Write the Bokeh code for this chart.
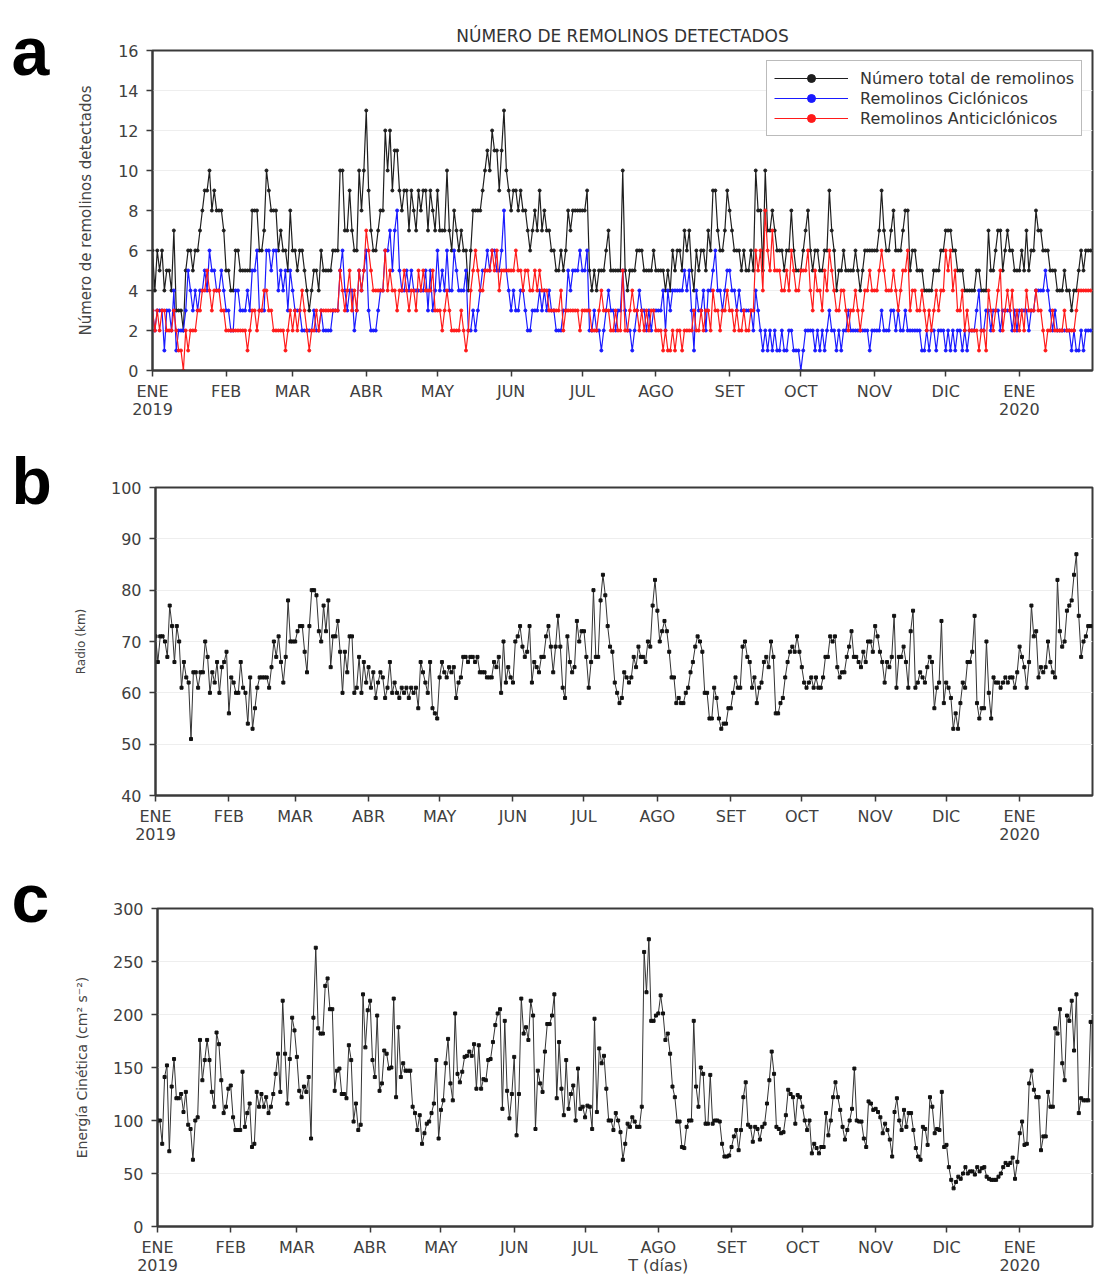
from itertools import accumulate
from bokeh.plotting import figure
from bokeh.models import Range1d, FixedTicker
from bokeh.layouts import column, row
from bokeh.embed import file_html
from bokeh.resources import INLINE
from bokeh.core.properties import value

# ---------------- data ----------------
meses_etiquetas = ["ENE\n2019", "FEB", "MAR", "ABR", "MAY", "JUN", "JUL", "AGO",
                   "SET", "OCT", "NOV", "DIC", "ENE\n2020"]
dias_por_mes = [31, 28, 31, 30, 31, 30, 31, 31, 30, 31, 30, 31, 31]

total_remolinos = [
    6,4,6,5,6,4,5,5,4,7, 3,3,3,2,5,6,6,5,6,6, 7,8,9,9,10,8,9,8,8,8,7,
    5,5,4,4,6,6,5,5,5,5, 5,8,8,8,6,6,7,10,9,8, 8,8,6,7,6,6,5,8,
    6,6,5,6,6,5,4,3,4,5, 5,4,6,5,5,5,5,6,6,6, 10,10,7,7,9,7,6,6,10,8,10,
    13,9,7,6,6,7,8,8,12,10, 12,9,11,11,9,8,9,9,7,9, 8,7,9,8,9,9,7,9,8,7,
    9,7,7,7,10,7,6,8,7,6, 7,6,6,4,6,8,8,8,8,9, 10,11,10,12,11,11,9,11,13,10,9,
    8,9,9,8,9,8,8,7,6,7, 8,7,9,7,8,7,7,6,6,5, 5,6,5,6,8,7,8,8,8,8,
    8,8,9,5,4,5,4,5,5,5, 6,7,5,5,5,5,5,10,5,4, 5,5,5,6,6,6,5,5,5,5,6,
    5,5,5,5,4,5,4,6,5,6, 6,5,7,6,7,5,4,6,5,6, 6,5,7,6,9,9,7,6,6,7,9,
    8,7,6,6,6,5,6,5,5,6, 5,10,8,8,5,10,7,7,8,7, 6,6,6,5,6,6,8,6,5,5,
    5,6,7,8,6,5,6,6,5,5, 6,6,9,7,6,4,5,5,6,5, 5,5,5,6,5,4,5,6,6,6,6,
    6,6,7,9,7,6,6,7,8,6, 6,6,7,8,8,5,6,6,5,5, 5,4,4,4,4,5,5,5,6,6,
    7,7,7,6,6,5,5,5,4,4, 4,4,4,5,5,4,4,4,7,5, 5,6,7,7,5,6,7,6,6,5,5,
    5,6,5,7,5,6,6,8,7,7, 6,6,6,5,5,5,4,4,4,5, 4,4,3,4,4,5,6,5,6,6,6,
]
remolinos_ciclonicos = [
    3,2,3,3,3,1,3,3,2,4, 1,2,2,2,3,5,4,3,4,3, 4,4,5,4,6,5,5,4,4,5,4,
    3,3,2,2,4,4,3,3,3,4, 3,5,5,6,3,3,3,6,6,5, 6,6,4,5,4,5,3,5,
    4,3,3,3,2,2,2,2,2,3, 2,2,3,2,2,2,2,3,3,3, 5,6,4,3,4,4,2,3,5,4,5,
    6,3,2,2,2,3,4,4,6,6, 7,5,7,8,5,4,4,5,4,5, 4,4,4,4,4,5,3,5,3,4,
    6,4,5,4,6,4,4,6,5,4, 4,4,5,2,2,3,2,3,4,5, 5,6,5,6,6,5,5,6,8,5,4,
    3,4,3,3,4,4,3,2,2,3, 3,3,4,3,4,3,4,3,3,2, 2,2,3,3,5,4,5,5,5,6,
    5,5,6,2,2,3,2,2,1,2, 3,4,3,3,2,3,3,5,3,2, 2,1,2,3,4,3,3,2,3,2,3,
    3,3,3,4,2,4,3,4,4,4, 4,4,5,4,5,3,1,4,3,3, 4,2,4,4,5,6,4,4,3,4,5,
    5,4,4,3,4,3,3,3,3,3, 2,4,3,2,1,2,1,2,1,2, 1,1,2,1,1,2,2,1,1,1,
    0,1,2,2,2,2,1,2,1,2, 1,2,3,2,2,1,2,1,2,2, 3,2,2,2,2,2,2,2,2,1,2,
    2,2,2,3,2,2,2,3,3,2, 3,2,2,3,2,2,2,2,2,2, 1,1,2,1,2,2,1,2,2,2,
    1,2,1,2,1,2,2,1,2,1, 2,2,2,3,4,2,2,3,3,2, 3,3,3,2,3,3,3,3,2,3,2,
    3,3,3,3,2,3,3,4,4,4, 4,5,4,3,2,3,2,2,2,2, 2,2,1,2,1,1,2,1,2,2,2,
]
remolinos_anticiclonicos = [
    3,2,3,2,3,3,2,2,2,3, 2,1,1,0,2,1,2,2,2,3, 3,4,4,5,4,3,4,4,4,3,3,
    2,2,2,2,2,2,2,2,2,1, 2,3,3,2,3,3,4,4,3,3, 2,2,2,2,2,1,2,3,
    2,3,2,3,4,3,2,1,2,2, 3,2,3,3,3,3,3,3,3,3, 5,4,3,4,5,3,4,3,5,4,5,
    7,6,5,4,4,4,4,4,6,4, 5,4,4,3,4,4,5,4,3,4, 4,3,5,4,5,4,4,4,5,3,
    3,3,2,3,4,3,2,2,2,2, 3,2,1,2,4,5,6,5,4,4, 5,5,5,6,5,6,4,5,5,5,5,
    5,5,6,5,5,4,5,5,4,4, 5,4,5,4,4,4,3,3,3,3, 3,4,2,3,3,3,3,3,3,2,
    3,3,3,3,2,2,2,3,4,3, 3,3,2,2,3,2,2,5,2,2, 3,4,3,3,2,3,2,3,2,3,3,
    2,2,2,1,2,1,1,2,1,2, 2,1,2,2,2,2,3,2,2,3, 2,3,3,2,4,3,3,2,3,3,4,
    3,3,2,3,2,2,3,2,2,3, 3,6,5,6,4,8,6,5,7,5, 5,5,4,4,5,4,6,5,4,4,
    5,5,5,6,4,3,5,4,4,3, 5,4,6,5,4,3,3,4,4,3, 2,3,3,4,3,2,3,4,4,5,4,
    4,4,5,6,5,4,4,4,5,4, 3,4,5,5,6,3,4,4,3,3, 4,3,2,3,2,3,4,3,4,4,
    6,5,6,4,5,3,3,4,2,3, 2,2,2,2,1,2,2,1,4,3, 2,3,4,5,2,3,4,3,4,2,3,
    2,3,2,4,3,3,3,4,3,3, 2,1,2,2,3,2,2,2,2,3, 2,2,2,2,3,4,4,4,4,4,4,
]
radio_km = [
    71,66,71,71,70,67,77,73,66,73, 70,61,66,63,62,51,64,64,61,64,
    64,70,67,60,64,62,66,60,65,66, 68,56,63,62,60,60,66,61,60,54,
    63,53,57,61,63,63,63,63,61,65, 70,67,71,66,62,67,78,70,70,70,
    72,73,73,68,64,73,80,80,79,72, 70,77,72,78,65,71,71,74,68,60,
    68,64,71,71,60,61,67,60,66,62, 65,61,64,59,62,64,63,59,61,66,
    60,62,60,59,61,60,61,59,61,60, 61,57,66,64,62,60,66,57,56,55,
    63,66,64,63,65,64,65,59,62,63, 67,67,66,67,67,66,67,64,64,64,
    63,63,63,66,65,67,60,70,62,65, 63,62,70,71,73,69,67,68,73,62,
    66,65,64,67,67,71,73,69,64,69, 75,69,61,59,71,66,64,65,74,70,
    72,72,67,61,66,80,67,67,78,83, 79,73,69,68,62,60,58,59,64,63,
    62,63,67,65,69,67,67,66,70,69, 77,82,76,70,72,74,72,68,63,63,
    58,59,58,58,60,61,64,66,69,71, 70,68,60,60,55,55,61,59,55,53,
    54,54,57,57,60,63,61,61,69,70, 67,66,61,63,58,61,62,66,67,65,
    70,67,56,56,58,59,63,66,68,69, 68,71,68,65,62,61,62,63,61,63,
    61,61,63,67,67,71,70,71,65,63, 64,64,67,69,72,67,67,66,65,68,
    66,70,70,68,73,71,68,66,62,66, 65,67,75,61,67,67,69,66,61,72,
    76,61,62,64,63,62,65,67,66,57, 61,62,74,58,62,61,59,53,56,53,
    58,62,61,66,66,68,75,58,55,57, 57,70,60,55,63,62,62,61,62,63,
    62,63,63,61,64,69,67,65,61,66, 77,71,72,63,65,64,65,70,66,64,
    63,82,72,69,70,76,77,78,83,87, 75,67,70,71,73,73,
]
energia_cinetica = [
    100,100,78,141,152,71,132,158,121,121, 125,108,127,96,92,63,100,103,176,138,
    157,176,157,127,113,183,172,138,107,113, 130,133,103,91,91,91,146,94,107,116,
    75,78,127,113,125,113,122,107,113,125, 144,163,127,213,163,116,158,197,185,160,
    128,122,132,127,141,83,197,263,187,182, 182,227,234,205,205,128,147,149,125,125,
    121,171,157,99,116,91,96,219,169,204, 213,157,141,199,128,135,166,163,149,150,
    215,122,188,141,154,147,147,147,113,107, 91,105,78,88,97,99,107,116,157,83,
    110,119,154,177,135,119,201,144,136,146, 160,161,165,161,172,130,171,130,139,138,
    157,158,174,190,201,205,111,194,128,102, 125,160,86,125,215,182,188,176,213,199,
    92,147,135,127,165,191,191,199,219,121, 174,130,105,157,111,125,133,100,149,111,
    113,103,114,113,92,196,108,168,154,161, 130,100,100,91,107,100,89,63,78,97,
    94,103,99,94,94,113,259,221,271,194, 194,199,201,218,201,176,182,163,132,122,
    99,99,75,74,94,100,100,194,132,113, 150,144,97,97,143,97,100,100,99,78,
    66,66,67,75,85,91,72,91,122,136, 96,94,80,94,92,82,94,97,116,138,
    165,144,94,92,88,89,105,129,125,122, 97,124,122,113,100,91,100,69,78,74,
    69,75,75,107,86,100,122,136,122,110, 94,82,91,100,111,149,100,99,99,83,
    75,118,116,110,111,108,103,88,97,91, 82,66,108,121,100,91,110,94,107,107,
    91,74,66,63,94,92,77,122,113,88, 92,91,127,75,77,56,44,36,42,47,
    45,50,56,50,52,52,49,56,52,55, 56,47,45,44,44,44,47,50,56,60,
    58,60,65,45,61,88,99,77,78,135, 147,129,122,122,72,85,85,127,113,113,
    187,182,205,154,138,199,194,213,166,219, 107,121,119,119,119,193,
]

# month-start day indices (tick positions) from the month lengths
inicio_mes = [0] + list(accumulate(dias_por_mes))[:-1]
n_dias = sum(dias_por_mes)

FONT = "DejaVu Sans"
AX = "#3a3a3a"
LETTER_W = 70


def base_fig(height, top, bottom, y0, y1, yticks, ylabel, ylabel_size, overrides=None):
    p = figure(width=1108 - LETTER_W, height=height,
               x_range=Range1d(0, n_dias - 0.2), y_range=Range1d(y0, y1),
               output_backend="svg", toolbar_location=None,
               min_border_left=82, min_border_right=16,
               min_border_top=top, min_border_bottom=bottom)
    labels = {i: lab for i, lab in zip(inicio_mes, meses_etiquetas)}
    if overrides:
        labels.update(overrides)
    p.xaxis.ticker = FixedTicker(ticks=inicio_mes)
    p.xaxis.major_label_overrides = labels
    p.yaxis.ticker = FixedTicker(ticks=yticks)
    p.axis.axis_line_color = AX
    p.axis.axis_line_width = 2
    p.axis.major_tick_line_color = AX
    p.axis.major_tick_line_width = 1.5
    p.axis.major_tick_out = 6
    p.axis.major_tick_in = 0
    p.axis.minor_tick_line_color = None
    p.axis.major_label_text_font = FONT
    p.axis.major_label_text_font_size = "16px"
    p.axis.major_label_text_color = "#404040"
    p.xaxis.major_label_text_line_height = 0.95
    p.xaxis.major_label_standoff = 5
    p.yaxis.major_label_standoff = 8
    p.yaxis.axis_label = ylabel
    p.axis.axis_label_text_font = FONT
    p.yaxis.axis_label_text_font_size = ylabel_size
    p.axis.axis_label_text_font_style = "normal"
    p.axis.axis_label_text_color = "#444444"
    p.yaxis.axis_label_standoff = 20
    p.outline_line_color = AX
    p.outline_line_width = 2
    p.outline_line_alpha = 1
    p.xgrid.visible = False
    p.ygrid.grid_line_color = "#eeeeee"
    p.background_fill_color = "white"
    p.border_fill_color = "white"
    return p


def letter_fig(height, txt, anchor_from_bottom, size="68px"):
    f = figure(width=LETTER_W, height=height, x_range=Range1d(0, LETTER_W),
               y_range=Range1d(0, height), output_backend="svg",
               toolbar_location=None, min_border=0, title=None,
               x_axis_location=None, y_axis_location=None, frame_align=False)
    f.grid.visible = False
    f.outline_line_color = None
    f.text(x=[11], y=[anchor_from_bottom], text=[txt],
           text_font=value("Liberation Sans"), text_font_size=size,
           text_font_style="bold", text_color="black", text_baseline="alphabetic")
    return f


# ---------------- panel a ----------------
HA = 440
pa = base_fig(HA, 50, 70, 0, 16, list(range(0, 17, 2)),
              "Número de remolinos detectados", "15px")
pa.title.text = "NÚMERO DE REMOLINOS DETECTADOS"
pa.title.align = "center"
pa.title.text_font = FONT
pa.title.text_font_size = "17px"
pa.title.text_font_style = "normal"
pa.title.text_color = "#333333"

series = [
    (total_remolinos, "#1e1e1e", "Número total de remolinos"),
    (remolinos_ciclonicos, "#1a1aff", "Remolinos Ciclónicos"),
    (remolinos_anticiclonicos, "#ff1a1a", "Remolinos Anticiclónicos"),
]
for vals, col, lab in series:
    xs = list(range(len(vals)))
    pa.line(xs, vals, line_color=col, line_width=1.2, legend_label=lab)
    pa.scatter(xs, vals, size=3, marker="circle", fill_color=col, line_color=col,
               legend_label=lab)

pa.legend.location = "top_right"
pa.legend.margin = 10
pa.legend.padding = 7
pa.legend.spacing = 0
pa.legend.glyph_width = 74
pa.legend.glyph_height = 20
pa.legend.label_height = 20
pa.legend.label_standoff = 12
pa.legend.label_text_font = FONT
pa.legend.label_text_font_size = "16px"
pa.legend.label_text_color = "#333333"
pa.legend.border_line_color = "#777777"
pa.legend.border_line_width = 1.2
pa.legend.background_fill_alpha = 1
la = letter_fig(HA, "a", HA - 50)

# ---------------- panel b ----------------
HB = 412
pb = base_fig(HB, 47, 57, 40, 100, list(range(40, 101, 10)), "Radio (km)", "12px")
xb = list(range(len(radio_km)))
pb.line(xb, radio_km, line_color="#333333", line_width=1)
pb.scatter(xb, radio_km, size=3, marker="square", fill_color="#111111", line_color="#111111")
lb = letter_fig(HB, "b", HB - 40, size="66px")

# ---------------- panel c ----------------
HC = 425
pc = base_fig(HC, 56, 50, 0, 300, list(range(0, 301, 50)),
              "Energía Cinética (cm² s⁻²)", "14px",
              overrides={inicio_mes[7]: "AGO\nT (días)"})
xc = list(range(len(energia_cinetica)))
pc.line(xc, energia_cinetica, line_color="#333333", line_width=1)
pc.scatter(xc, energia_cinetica, size=3, marker="square", fill_color="#111111", line_color="#111111")
lc = letter_fig(HC, "c", HC - 45)

layout = column(row(la, pa), row(lb, pb), row(lc, pc))
open("out.html", "w").write(file_html(layout, INLINE))
